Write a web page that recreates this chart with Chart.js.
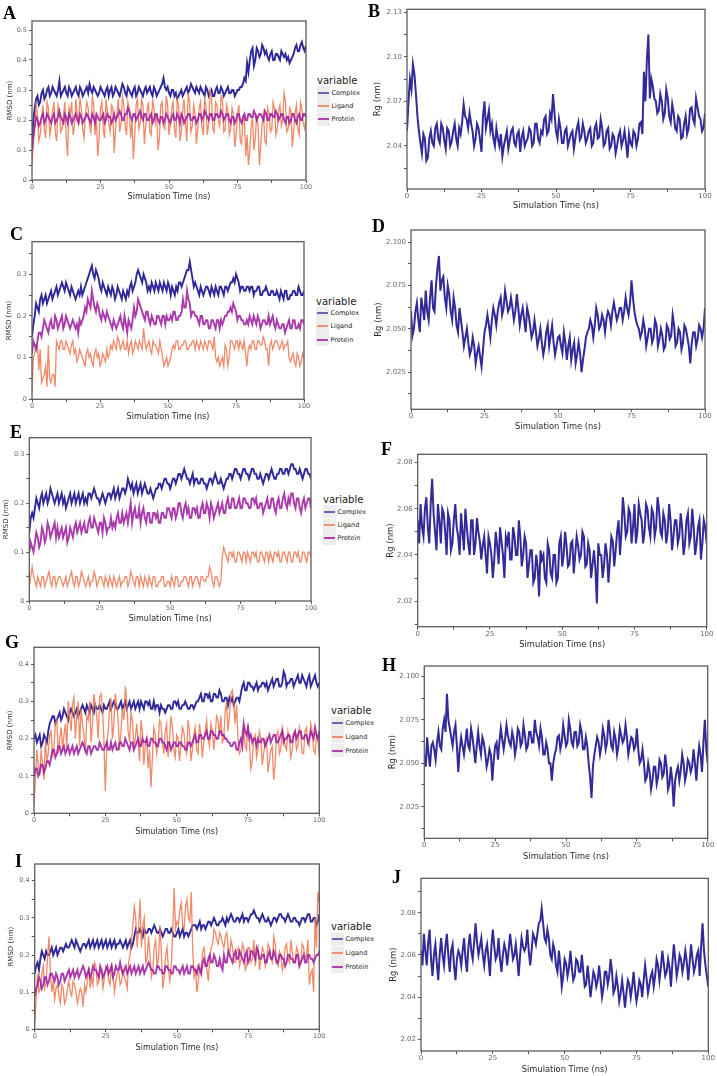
<!DOCTYPE html>
<html><head><meta charset="utf-8">
<script src="https://cdn.jsdelivr.net/npm/chart.js@4.4.1/dist/chart.umd.min.js"></script>
<style>
html,body{margin:0;padding:0;background:#fff}
body{width:717px;height:1076px;position:relative;overflow:hidden;font-family:'DejaVu Sans',sans-serif}
canvas{position:absolute}
.plab{position:absolute;font-family:'Liberation Serif',serif;font-weight:bold;font-size:18px;line-height:18px;color:#000}
.legt{position:absolute;font-size:10px;line-height:12px;color:#222;white-space:nowrap}
.legk{position:absolute;width:13px;height:13px;background:#ededed}
.legk i{position:absolute;left:1px;right:1px;top:5.5px;height:2px;display:block}
.legi{position:absolute;font-size:6.5px;line-height:8px;color:#222;white-space:nowrap}
</style></head>
<body>
<script>
// ---------------- DATA ----------------
const TIME = [0,1,2,3,4,5,6,7,8,9,10,11,12,13,14,15,16,17,18,19,20,21,22,23,24,25,26,27,28,29,30,31,32,33,34,35,36,37,38,39,40,41,42,43,44,45,46,47,48,49,50,51,52,53,54,55,56,57,58,59,60,61,62,63,64,65,66,67,68,69,70,71,72,73,74,75,76,77,78,79,80,81,82,83,84,85,86,87,88,89,90,91,92,93,94,95,96,97,98,99,100];
const TIME_HALF = [0.5,1.5,2.5,3.5,4.5,5.5,6.5,7.5,8.5,9.5,10.5,11.5,12.5,13.5,14.5,15.5,16.5,17.5,18.5,19.5,20.5,21.5,22.5,23.5,24.5,25.5,26.5,27.5,28.5,29.5,30.5,31.5,32.5,33.5,34.5,35.5,36.5,37.5,38.5,39.5,40.5,41.5,42.5,43.5,44.5,45.5,46.5,47.5,48.5,49.5,50.5,51.5,52.5,53.5,54.5,55.5,56.5,57.5,58.5,59.5,60.5,61.5,62.5,63.5,64.5,65.5,66.5,67.5,68.5,69.5,70.5,71.5,72.5,73.5,74.5,75.5,76.5,77.5,78.5,79.5,80.5,81.5,82.5,83.5,84.5,85.5,86.5,87.5,88.5,89.5,90.5,91.5,92.5,93.5,94.5,95.5,96.5,97.5,98.5,99.5];
const SERIES_NAMES = ['Complex','Ligand','Protein'];
const X_TICKS = [0,25,50,75,100];

// Panel A (RMSD)
const A_COMPLEX = [0.14,0.24,0.28,0.26,0.30,0.28,0.31,0.29,0.30,0.28,0.33,
0.29,0.31,0.28,0.30,0.29,0.31,0.28,0.30,0.29,0.31,
0.32,0.29,0.30,0.28,0.31,0.29,0.30,0.28,0.31,0.29,
0.30,0.28,0.32,0.29,0.31,0.29,0.30,0.28,0.31,0.29,
0.30,0.29,0.31,0.28,0.30,0.29,0.31,0.34,0.30,0.29,
0.30,0.28,0.27,0.29,0.28,0.30,0.29,0.32,0.30,0.31,
0.29,0.30,0.28,0.30,0.29,0.28,0.30,0.29,0.31,0.28,
0.30,0.29,0.30,0.28,0.30,0.31,0.32,0.33,0.36,0.43,
0.38,0.44,0.41,0.45,0.42,0.41,0.42,0.40,0.42,0.41,
0.43,0.41,0.40,0.39,0.41,0.44,0.43,0.45,0.44,0.45];
const A_COMPLEX_HALF = [0.20,0.27,0.25,0.29,0.27,0.30,0.28,0.31,0.29,0.30,
0.28,0.30,0.29,0.31,0.28,0.30,0.29,0.31,0.28,0.30,
0.29,0.30,0.31,0.29,0.29,0.30,0.28,0.31,0.30,0.28,
0.31,0.29,0.30,0.31,0.28,0.30,0.28,0.31,0.29,0.30,
0.28,0.31,0.30,0.29,0.31,0.28,0.30,0.32,0.31,0.31,
0.28,0.30,0.29,0.28,0.30,0.29,0.31,0.30,0.31,0.29,
0.30,0.31,0.29,0.31,0.28,0.30,0.28,0.31,0.29,0.30,
0.29,0.31,0.29,0.30,0.29,0.30,0.31,0.34,0.39,0.40,
0.44,0.40,0.43,0.42,0.44,0.43,0.40,0.43,0.40,0.42,
0.40,0.42,0.42,0.41,0.40,0.42,0.45,0.43,0.46,0.43];
const A_LIGAND = [0.05,0.18,0.22,0.15,0.25,0.14,0.24,0.18,0.26,0.13,0.23,
0.17,0.26,0.08,0.22,0.15,0.27,0.19,0.24,0.14,0.26,
0.18,0.28,0.15,0.08,0.24,0.17,0.27,0.19,0.25,0.09,
0.22,0.16,0.28,0.18,0.26,0.14,0.07,0.25,0.17,0.27,
0.12,0.23,0.16,0.27,0.19,0.10,0.25,0.18,0.28,0.15,
0.24,0.17,0.27,0.13,0.23,0.19,0.29,0.16,0.25,0.12,
0.24,0.18,0.27,0.15,0.30,0.17,0.26,0.20,0.28,0.16,
0.25,0.15,0.24,0.11,0.22,0.13,0.20,0.08,0.05,0.18,
0.10,0.22,0.05,0.19,0.13,0.24,0.16,0.26,0.15,0.23,
0.18,0.29,0.16,0.24,0.11,0.22,0.17,0.26,0.19,0.21];
const A_LIGAND_HALF = [0.12,0.25,0.13,0.21,0.17,0.26,0.15,0.23,0.16,0.25,
0.16,0.22,0.14,0.24,0.26,0.18,0.22,0.27,0.17,0.22,
0.24,0.16,0.25,0.21,0.14,0.26,0.14,0.23,0.16,0.24,
0.17,0.27,0.19,0.25,0.15,0.24,0.20,0.15,0.27,0.19,
0.25,0.18,0.26,0.15,0.24,0.22,0.14,0.26,0.17,0.25,
0.19,0.26,0.14,0.25,0.16,0.27,0.13,0.26,0.18,0.22,
0.17,0.26,0.15,0.25,0.19,0.28,0.16,0.25,0.18,0.27,
0.17,0.23,0.17,0.22,0.15,0.25,0.12,0.21,0.15,0.10,
0.21,0.14,0.18,0.12,0.22,0.12,0.22,0.17,0.24,0.17,
0.25,0.20,0.26,0.17,0.23,0.16,0.25,0.15,0.24,0.17];
const A_PROTEIN = [0.10,0.18,0.20,0.19,0.22,0.20,0.21,0.19,0.22,0.20,0.23,
0.20,0.22,0.19,0.21,0.20,0.22,0.19,0.21,0.20,0.22,
0.20,0.22,0.19,0.21,0.20,0.22,0.20,0.21,0.19,0.22,
0.21,0.23,0.20,0.22,0.24,0.21,0.22,0.20,0.22,0.21,
0.22,0.20,0.21,0.19,0.22,0.20,0.21,0.19,0.22,0.20,
0.21,0.20,0.22,0.19,0.21,0.20,0.22,0.20,0.21,0.19,
0.22,0.20,0.23,0.21,0.22,0.20,0.22,0.21,0.23,0.20,
0.22,0.20,0.21,0.19,0.22,0.20,0.21,0.20,0.22,0.21,
0.23,0.20,0.22,0.21,0.23,0.20,0.22,0.21,0.23,0.20,
0.22,0.20,0.21,0.19,0.22,0.20,0.21,0.20,0.22,0.21];
const A_PROTEIN_HALF = [0.15,0.21,0.18,0.21,0.19,0.22,0.20,0.21,0.19,0.21,
0.21,0.19,0.21,0.22,0.19,0.21,0.20,0.22,0.19,0.21,
0.21,0.19,0.21,0.22,0.20,0.21,0.19,0.22,0.21,0.20,
0.20,0.22,0.22,0.20,0.22,0.23,0.20,0.22,0.21,0.23,
0.20,0.22,0.20,0.22,0.20,0.22,0.19,0.21,0.20,0.21,
0.19,0.22,0.20,0.21,0.22,0.19,0.21,0.22,0.20,0.21,
0.20,0.22,0.21,0.22,0.20,0.22,0.20,0.22,0.21,0.22,
0.21,0.22,0.19,0.21,0.20,0.22,0.19,0.22,0.20,0.22,
0.21,0.22,0.21,0.22,0.20,0.22,0.20,0.22,0.21,0.22,
0.21,0.22,0.19,0.21,0.20,0.22,0.19,0.22,0.20,0.22];
const A_YTICKS = [0,0.1,0.2,0.3,0.4,0.5];
const A_YLABELS = ['0','0.1','0.2','0.3','0.4','0.5'];

// Panel B (Rg)
const B_RG = [2.050,2.085,2.095,2.075,2.050,2.035,2.045,2.032,2.050,2.040,2.055,
2.042,2.052,2.038,2.050,2.043,2.055,2.040,2.048,2.068,2.058,
2.062,2.050,2.045,2.052,2.036,2.070,2.058,2.050,2.045,2.052,
2.040,2.033,2.045,2.038,2.050,2.042,2.048,2.036,2.050,2.043,
2.052,2.040,2.055,2.045,2.050,2.058,2.048,2.062,2.075,2.050,
2.058,2.042,2.050,2.040,2.048,2.038,2.052,2.044,2.055,2.042,
2.050,2.040,2.052,2.045,2.058,2.040,2.050,2.038,2.048,2.035,
2.047,2.040,2.050,2.032,2.042,2.050,2.040,2.055,2.048,2.070,
2.115,2.085,2.072,2.062,2.075,2.058,2.078,2.060,2.068,2.052,
2.060,2.045,2.055,2.048,2.065,2.058,2.072,2.060,2.050,2.062];
const B_RG_HALF = [2.070,2.078,2.088,2.060,2.042,2.048,2.030,2.045,2.042,2.052,
2.045,2.055,2.044,2.052,2.040,2.050,2.045,2.052,2.056,2.060,
2.052,2.055,2.040,2.055,2.044,2.060,2.052,2.064,2.055,2.040,
2.045,2.048,2.040,2.050,2.044,2.052,2.040,2.050,2.046,2.040,
2.045,2.050,2.042,2.055,2.042,2.048,2.060,2.050,2.058,2.062,
2.045,2.052,2.042,2.052,2.044,2.050,2.045,2.056,2.046,2.050,
2.045,2.052,2.042,2.055,2.046,2.052,2.042,2.052,2.040,2.046,
2.040,2.050,2.044,2.042,2.048,2.040,2.048,2.045,2.056,2.090,
2.098,2.072,2.080,2.070,2.064,2.070,2.062,2.072,2.056,2.062,
2.050,2.058,2.046,2.060,2.052,2.066,2.055,2.066,2.058,2.052];
const B_YTICKS = [2.04,2.07,2.10,2.13];
const B_YLABELS = ['2.04','2.07','2.10','2.13'];

// Panel C (RMSD)
const C_COMPLEX = [0.15,0.20,0.22,0.24,0.23,0.25,0.24,0.26,0.25,0.27,0.26,
0.28,0.26,0.27,0.25,0.26,0.24,0.26,0.27,0.26,0.28,
0.30,0.32,0.29,0.30,0.27,0.28,0.26,0.27,0.25,0.26,
0.25,0.26,0.24,0.25,0.26,0.27,0.26,0.28,0.31,0.29,
0.30,0.28,0.27,0.28,0.26,0.27,0.28,0.26,0.27,0.28,
0.25,0.26,0.27,0.28,0.27,0.29,0.31,0.33,0.29,0.28,
0.26,0.27,0.25,0.27,0.26,0.27,0.25,0.26,0.27,0.26,
0.27,0.26,0.28,0.29,0.30,0.28,0.27,0.26,0.27,0.26,
0.27,0.26,0.27,0.25,0.26,0.27,0.25,0.26,0.25,0.26,
0.24,0.25,0.26,0.24,0.25,0.26,0.25,0.27,0.25,0.26];
const C_COMPLEX_HALF = [0.18,0.23,0.21,0.25,0.24,0.23,0.25,0.24,0.26,0.25,
0.27,0.27,0.28,0.26,0.27,0.25,0.25,0.25,0.25,0.27,
0.29,0.31,0.30,0.31,0.29,0.26,0.27,0.25,0.26,0.27,
0.24,0.27,0.25,0.26,0.24,0.25,0.28,0.27,0.30,0.30,
0.28,0.29,0.26,0.26,0.27,0.28,0.26,0.27,0.28,0.26,
0.27,0.27,0.25,0.26,0.28,0.28,0.30,0.31,0.31,0.27,
0.27,0.25,0.26,0.26,0.27,0.25,0.26,0.27,0.25,0.27,
0.25,0.27,0.27,0.28,0.28,0.29,0.26,0.27,0.26,0.27,
0.27,0.25,0.26,0.27,0.25,0.26,0.26,0.25,0.26,0.25,
0.25,0.26,0.24,0.26,0.24,0.25,0.26,0.25,0.26,0.25];
const C_LIGAND = [0.02,0.11,0.13,0.12,0.05,0.08,0.13,0.04,0.06,0.14,0.12,
0.14,0.12,0.13,0.11,0.14,0.12,0.10,0.11,0.09,0.11,
0.10,0.09,0.11,0.10,0.08,0.11,0.09,0.10,0.13,0.14,
0.12,0.14,0.13,0.12,0.14,0.13,0.11,0.14,0.12,0.13,
0.17,0.12,0.14,0.11,0.13,0.12,0.14,0.10,0.09,0.08,
0.10,0.13,0.14,0.12,0.13,0.14,0.12,0.13,0.14,0.12,
0.13,0.14,0.12,0.13,0.14,0.13,0.15,0.09,0.08,0.10,
0.13,0.08,0.14,0.13,0.14,0.12,0.13,0.14,0.08,0.13,
0.14,0.12,0.14,0.13,0.15,0.12,0.08,0.14,0.13,0.14,
0.12,0.14,0.13,0.14,0.09,0.11,0.08,0.10,0.09,0.10];
const C_LIGAND_HALF = [0.10,0.13,0.07,0.04,0.06,0.03,0.05,0.06,0.03,0.13,
0.14,0.12,0.14,0.12,0.13,0.11,0.09,0.12,0.10,0.08,
0.12,0.11,0.08,0.12,0.11,0.09,0.10,0.12,0.11,0.12,
0.13,0.15,0.12,0.14,0.12,0.11,0.14,0.12,0.13,0.14,
0.12,0.14,0.13,0.12,0.14,0.13,0.11,0.12,0.08,0.10,
0.09,0.12,0.12,0.14,0.12,0.13,0.14,0.12,0.13,0.14,
0.14,0.12,0.13,0.14,0.12,0.14,0.12,0.10,0.10,0.09,
0.08,0.12,0.10,0.14,0.12,0.14,0.14,0.12,0.11,0.12,
0.12,0.14,0.12,0.14,0.13,0.14,0.12,0.13,0.12,0.14,
0.13,0.13,0.12,0.13,0.10,0.10,0.09,0.11,0.08,0.11];
const C_PROTEIN = [0.11,0.13,0.14,0.16,0.17,0.18,0.16,0.19,0.17,0.19,0.18,
0.20,0.18,0.19,0.17,0.19,0.17,0.16,0.18,0.20,0.21,
0.23,0.26,0.22,0.23,0.20,0.21,0.19,0.20,0.18,0.19,
0.17,0.19,0.18,0.20,0.16,0.18,0.19,0.20,0.24,0.22,
0.20,0.21,0.19,0.20,0.18,0.20,0.19,0.20,0.18,0.19,
0.20,0.21,0.19,0.20,0.21,0.22,0.26,0.23,0.21,0.20,
0.19,0.20,0.18,0.19,0.17,0.19,0.18,0.19,0.17,0.18,
0.20,0.21,0.22,0.23,0.21,0.20,0.19,0.18,0.19,0.20,
0.18,0.19,0.20,0.17,0.19,0.18,0.20,0.19,0.18,0.19,
0.17,0.18,0.16,0.18,0.17,0.19,0.17,0.18,0.19,0.18];
const C_PROTEIN_HALF = [0.14,0.12,0.16,0.15,0.19,0.17,0.18,0.17,0.20,0.17,
0.19,0.17,0.20,0.18,0.18,0.18,0.18,0.19,0.19,0.22,
0.24,0.22,0.24,0.21,0.22,0.19,0.20,0.21,0.19,0.17,
0.18,0.18,0.20,0.17,0.18,0.19,0.17,0.22,0.21,0.23,
0.21,0.19,0.21,0.18,0.19,0.18,0.20,0.18,0.20,0.20,
0.19,0.19,0.21,0.19,0.20,0.24,0.22,0.24,0.20,0.21,
0.20,0.18,0.20,0.18,0.19,0.17,0.19,0.17,0.19,0.19,
0.19,0.20,0.21,0.21,0.22,0.19,0.20,0.19,0.18,0.18,
0.19,0.20,0.18,0.19,0.18,0.19,0.18,0.18,0.20,0.17,
0.18,0.17,0.18,0.17,0.19,0.17,0.19,0.17,0.17,0.19];
const C_YTICKS = [0,0.1,0.2,0.3];
const C_YLABELS = ['0','0.1','0.2','0.3'];

// Panel D (Rg)
const D_RG = [2.060,2.050,2.065,2.048,2.062,2.072,2.055,2.078,2.060,2.085,2.072,
2.080,2.062,2.070,2.055,2.062,2.048,2.055,2.040,2.050,2.035,
2.045,2.030,2.040,2.028,2.048,2.058,2.045,2.062,2.052,2.065,
2.058,2.072,2.060,2.068,2.055,2.070,2.052,2.062,2.048,2.058,
2.045,2.055,2.040,2.050,2.035,2.048,2.040,2.052,2.035,2.045,
2.040,2.048,2.032,2.045,2.038,2.030,2.042,2.025,2.038,2.048,
2.055,2.045,2.062,2.050,2.058,2.048,2.060,2.052,2.065,2.055,
2.062,2.055,2.068,2.058,2.078,2.060,2.052,2.045,2.055,2.040,
2.050,2.042,2.055,2.040,2.050,2.038,2.052,2.044,2.058,2.040,
2.050,2.038,2.052,2.045,2.030,2.048,2.040,2.052,2.045,2.062];
const D_RG_HALF = [2.046,2.060,2.055,2.068,2.055,2.060,2.068,2.062,2.075,2.092,
2.078,2.068,2.075,2.060,2.068,2.052,2.062,2.048,2.045,2.042,
2.038,2.040,2.036,2.034,2.038,2.052,2.052,2.055,2.058,2.060,
2.068,2.062,2.066,2.062,2.062,2.060,2.062,2.058,2.055,2.062,
2.052,2.048,2.048,2.044,2.042,2.040,2.052,2.046,2.042,2.040,
2.046,2.036,2.042,2.040,2.032,2.042,2.035,2.036,2.032,2.045,
2.050,2.052,2.052,2.058,2.052,2.055,2.056,2.058,2.060,2.060,
2.058,2.062,2.060,2.062,2.065,2.068,2.055,2.050,2.048,2.050,
2.045,2.050,2.045,2.052,2.044,2.046,2.040,2.050,2.046,2.052,
2.042,2.048,2.042,2.050,2.040,2.042,2.048,2.044,2.050,2.050];
const D_YTICKS = [2.025,2.050,2.075,2.100];
const D_YLABELS = ['2.025','2.050','2.075','2.100'];

// Panel E (RMSD)
const E_COMPLEX = [0.14,0.18,0.19,0.20,0.21,0.20,0.22,0.21,0.22,0.20,0.22,
0.21,0.20,0.19,0.21,0.20,0.22,0.21,0.20,0.22,0.21,
0.22,0.21,0.23,0.21,0.20,0.22,0.20,0.22,0.21,0.23,
0.22,0.21,0.23,0.22,0.25,0.23,0.22,0.24,0.23,0.22,
0.24,0.22,0.23,0.21,0.23,0.24,0.23,0.25,0.24,0.23,
0.25,0.24,0.26,0.25,0.27,0.25,0.24,0.26,0.25,0.24,
0.25,0.24,0.23,0.25,0.24,0.26,0.24,0.25,0.23,0.25,
0.26,0.25,0.27,0.26,0.25,0.27,0.26,0.25,0.27,0.26,
0.25,0.26,0.24,0.26,0.25,0.27,0.25,0.26,0.27,0.26,
0.27,0.26,0.28,0.27,0.26,0.27,0.25,0.27,0.26,0.25];
const E_COMPLEX_HALF = [0.17,0.17,0.21,0.19,0.22,0.21,0.20,0.23,0.21,0.21,
0.20,0.22,0.21,0.20,0.22,0.21,0.20,0.22,0.21,0.20,
0.20,0.22,0.22,0.22,0.21,0.21,0.21,0.21,0.22,0.22,
0.21,0.23,0.22,0.23,0.23,0.24,0.24,0.23,0.22,0.24,
0.23,0.23,0.22,0.22,0.22,0.23,0.24,0.24,0.25,0.24,
0.24,0.25,0.25,0.26,0.26,0.26,0.25,0.25,0.24,0.25,
0.24,0.25,0.24,0.24,0.25,0.25,0.25,0.24,0.24,0.24,
0.25,0.26,0.26,0.27,0.26,0.26,0.27,0.26,0.26,0.27,
0.26,0.25,0.25,0.25,0.26,0.26,0.26,0.25,0.26,0.27,
0.26,0.27,0.27,0.28,0.27,0.26,0.26,0.26,0.27,0.26];
const E_LIGAND = [0.03,0.07,0.04,0.05,0.03,0.05,0.04,0.06,0.03,0.05,0.04,
0.05,0.03,0.05,0.04,0.06,0.03,0.05,0.04,0.05,0.03,
0.05,0.04,0.06,0.03,0.05,0.04,0.05,0.03,0.04,0.05,
0.03,0.05,0.04,0.05,0.03,0.06,0.04,0.05,0.03,0.04,
0.05,0.03,0.04,0.05,0.03,0.04,0.05,0.03,0.04,0.03,
0.04,0.05,0.03,0.04,0.05,0.04,0.05,0.03,0.05,0.04,
0.05,0.04,0.05,0.07,0.04,0.05,0.04,0.04,0.11,0.09,
0.10,0.09,0.08,0.10,0.09,0.10,0.08,0.09,0.10,0.09,
0.08,0.10,0.09,0.10,0.08,0.09,0.10,0.09,0.08,0.10,
0.09,0.10,0.08,0.10,0.09,0.08,0.10,0.09,0.10,0.09];
const E_LIGAND_HALF = [0.05,0.05,0.03,0.04,0.05,0.03,0.05,0.04,0.05,0.03,
0.05,0.04,0.04,0.03,0.05,0.04,0.05,0.03,0.06,0.04,
0.04,0.03,0.04,0.05,0.04,0.05,0.03,0.04,0.05,0.03,
0.04,0.04,0.03,0.04,0.05,0.04,0.05,0.03,0.05,0.05,
0.03,0.04,0.05,0.03,0.05,0.03,0.04,0.05,0.03,0.04,
0.05,0.03,0.05,0.03,0.04,0.05,0.03,0.05,0.04,0.05,
0.03,0.05,0.04,0.05,0.06,0.03,0.05,0.03,0.09,0.10,
0.08,0.10,0.10,0.08,0.10,0.08,0.10,0.10,0.08,0.10,
0.10,0.08,0.10,0.08,0.10,0.10,0.08,0.10,0.10,0.08,
0.10,0.08,0.10,0.08,0.10,0.10,0.08,0.10,0.08,0.10];
const E_PROTEIN = [0.10,0.11,0.12,0.13,0.12,0.14,0.13,0.15,0.14,0.16,0.15,
0.14,0.13,0.15,0.13,0.14,0.15,0.14,0.16,0.15,0.14,
0.16,0.15,0.17,0.15,0.16,0.14,0.16,0.15,0.17,0.16,
0.17,0.16,0.18,0.17,0.16,0.20,0.18,0.17,0.19,0.18,
0.17,0.18,0.16,0.18,0.17,0.16,0.18,0.17,0.19,0.18,
0.19,0.17,0.20,0.18,0.19,0.18,0.17,0.19,0.18,0.17,
0.19,0.18,0.20,0.17,0.19,0.18,0.20,0.19,0.18,0.20,
0.19,0.21,0.19,0.20,0.19,0.21,0.20,0.19,0.21,0.20,
0.19,0.20,0.18,0.20,0.19,0.21,0.19,0.20,0.19,0.21,
0.20,0.21,0.22,0.20,0.21,0.19,0.20,0.19,0.21,0.19];
const E_PROTEIN_HALF = [0.12,0.10,0.14,0.11,0.15,0.12,0.16,0.13,0.15,0.13,
0.13,0.15,0.14,0.12,0.15,0.13,0.16,0.15,0.14,0.16,
0.14,0.17,0.15,0.16,0.14,0.16,0.17,0.14,0.15,0.15,
0.15,0.18,0.16,0.16,0.18,0.18,0.16,0.19,0.17,0.16,
0.19,0.16,0.18,0.16,0.18,0.18,0.16,0.18,0.17,0.19,
0.17,0.19,0.18,0.20,0.17,0.20,0.19,0.17,0.19,0.19,
0.17,0.20,0.18,0.19,0.20,0.17,0.19,0.18,0.20,0.18,
0.21,0.19,0.21,0.19,0.21,0.19,0.21,0.20,0.19,0.21,
0.21,0.19,0.20,0.19,0.21,0.19,0.21,0.18,0.21,0.19,
0.22,0.19,0.20,0.22,0.19,0.21,0.18,0.21,0.20,0.21];
const E_YTICKS = [0,0.1,0.2,0.3];
const E_YLABELS = ['0','0.1','0.2','0.3'];

// Panel F (Rg)
const F_RG = [2.055,2.062,2.048,2.065,2.045,2.073,2.050,2.062,2.045,2.058,2.040,
2.055,2.045,2.062,2.048,2.058,2.042,2.052,2.040,2.055,2.045,
2.050,2.038,2.048,2.032,2.045,2.030,2.050,2.036,2.046,2.030,
2.045,2.038,2.052,2.040,2.055,2.035,2.048,2.030,2.042,2.028,
2.040,2.022,2.038,2.030,2.045,2.032,2.040,2.028,2.045,2.035,
2.050,2.035,2.045,2.032,2.048,2.038,2.050,2.035,2.045,2.030,
2.042,2.019,2.040,2.030,2.045,2.028,2.048,2.035,2.050,2.040,
2.065,2.048,2.060,2.045,2.062,2.050,2.058,2.045,2.062,2.052,
2.060,2.048,2.065,2.050,2.058,2.045,2.062,2.042,2.055,2.045,
2.058,2.040,2.055,2.045,2.060,2.040,2.052,2.038,2.055,2.045];
const F_RG_HALF = [2.045,2.052,2.060,2.052,2.062,2.058,2.042,2.055,2.060,2.050,
2.058,2.042,2.055,2.052,2.040,2.050,2.060,2.045,2.055,2.040,
2.056,2.046,2.044,2.040,2.048,2.040,2.038,2.044,2.052,2.040,
2.048,2.050,2.038,2.048,2.040,2.048,2.040,2.045,2.036,2.042,
2.030,2.035,2.042,2.040,2.028,2.042,2.030,2.040,2.030,2.048,
2.040,2.044,2.036,2.046,2.040,2.044,2.040,2.048,2.036,2.042,
2.036,2.034,2.045,2.040,2.036,2.040,2.038,2.046,2.042,2.055,
2.050,2.058,2.050,2.058,2.052,2.045,2.062,2.055,2.050,2.060,
2.048,2.058,2.052,2.060,2.048,2.055,2.050,2.055,2.048,2.055,
2.048,2.052,2.045,2.058,2.048,2.052,2.045,2.055,2.045,2.052];
const F_YTICKS = [2.02,2.04,2.06,2.08];
const F_YLABELS = ['2.02','2.04','2.06','2.08'];

// Panel G (RMSD)
const G_COMPLEX = [0.20,0.19,0.21,0.19,0.20,0.22,0.25,0.26,0.25,0.27,0.26,
0.27,0.25,0.28,0.26,0.28,0.27,0.29,0.27,0.28,0.29,
0.27,0.28,0.29,0.27,0.28,0.29,0.28,0.30,0.28,0.29,
0.28,0.30,0.29,0.28,0.30,0.29,0.28,0.29,0.30,0.29,
0.28,0.30,0.29,0.27,0.28,0.27,0.29,0.28,0.30,0.29,
0.28,0.29,0.30,0.28,0.29,0.28,0.30,0.31,0.30,0.32,
0.31,0.30,0.32,0.31,0.33,0.30,0.31,0.29,0.30,0.29,
0.31,0.30,0.34,0.33,0.35,0.34,0.33,0.35,0.34,0.35,
0.34,0.33,0.35,0.34,0.36,0.34,0.35,0.37,0.35,0.36,
0.34,0.36,0.35,0.37,0.35,0.36,0.34,0.36,0.35,0.35];
const G_COMPLEX_HALF = [0.21,0.20,0.18,0.21,0.19,0.24,0.26,0.24,0.26,0.25,
0.28,0.26,0.27,0.27,0.27,0.26,0.28,0.28,0.29,0.27,
0.28,0.29,0.28,0.28,0.29,0.28,0.30,0.29,0.29,0.28,
0.30,0.29,0.28,0.30,0.29,0.28,0.30,0.30,0.28,0.30,
0.30,0.28,0.28,0.29,0.29,0.28,0.28,0.29,0.28,0.30,
0.30,0.28,0.29,0.29,0.28,0.29,0.29,0.30,0.32,0.30,
0.32,0.32,0.30,0.32,0.31,0.32,0.30,0.31,0.31,0.31,
0.30,0.31,0.32,0.35,0.33,0.35,0.34,0.34,0.33,0.34,
0.35,0.35,0.34,0.36,0.35,0.36,0.34,0.38,0.34,0.35,
0.36,0.35,0.37,0.35,0.36,0.34,0.37,0.35,0.37,0.34];
const G_LIGAND = [0.02,0.17,0.10,0.13,0.20,0.16,0.22,0.18,0.25,0.20,0.17,
0.24,0.30,0.22,0.31,0.26,0.18,0.24,0.16,0.25,0.19,
0.32,0.26,0.31,0.28,0.06,0.22,0.31,0.24,0.29,0.17,
0.28,0.34,0.22,0.27,0.18,0.24,0.14,0.22,0.18,0.12,
0.07,0.23,0.16,0.25,0.19,0.22,0.15,0.26,0.17,0.21,
0.14,0.23,0.18,0.25,0.14,0.21,0.17,0.24,0.15,0.22,
0.20,0.24,0.17,0.26,0.21,0.19,0.27,0.22,0.32,0.30,
0.29,0.16,0.22,0.18,0.24,0.12,0.20,0.15,0.22,0.13,
0.19,0.11,0.17,0.09,0.21,0.16,0.23,0.18,0.22,0.15,
0.21,0.17,0.23,0.16,0.22,0.19,0.24,0.17,0.21,0.15];
const G_LIGAND_HALF = [0.09,0.13,0.17,0.09,0.14,0.21,0.15,0.24,0.16,0.23,
0.21,0.17,0.26,0.29,0.20,0.30,0.28,0.21,0.26,0.30,
0.24,0.29,0.20,0.32,0.20,0.18,0.28,0.20,0.32,0.25,
0.22,0.25,0.30,0.19,0.25,0.20,0.19,0.25,0.13,0.20,
0.17,0.15,0.21,0.19,0.24,0.16,0.24,0.20,0.23,0.15,
0.20,0.18,0.22,0.16,0.22,0.17,0.23,0.16,0.21,0.19,
0.25,0.18,0.22,0.21,0.25,0.26,0.20,0.30,0.26,0.33,
0.24,0.20,0.17,0.23,0.17,0.19,0.14,0.21,0.17,0.20,
0.16,0.20,0.14,0.18,0.13,0.22,0.17,0.21,0.17,0.20,
0.17,0.22,0.18,0.21,0.16,0.23,0.18,0.22,0.16,0.20];
const G_PROTEIN = [0.10,0.12,0.11,0.13,0.12,0.14,0.15,0.17,0.16,0.18,0.17,
0.16,0.18,0.17,0.16,0.18,0.17,0.19,0.17,0.18,0.16,
0.18,0.17,0.19,0.17,0.18,0.17,0.19,0.18,0.17,0.19,
0.18,0.20,0.18,0.19,0.17,0.19,0.18,0.20,0.19,0.18,
0.20,0.19,0.18,0.20,0.19,0.18,0.19,0.17,0.19,0.18,
0.19,0.18,0.17,0.19,0.18,0.20,0.19,0.21,0.20,0.21,
0.20,0.22,0.21,0.20,0.22,0.21,0.20,0.19,0.18,0.19,
0.17,0.19,0.18,0.22,0.23,0.21,0.20,0.18,0.19,0.20,
0.18,0.20,0.19,0.21,0.19,0.20,0.22,0.20,0.21,0.19,
0.21,0.20,0.22,0.20,0.21,0.19,0.22,0.20,0.21,0.22];
const G_PROTEIN_HALF = [0.12,0.10,0.13,0.11,0.14,0.13,0.17,0.15,0.18,0.16,
0.18,0.17,0.16,0.18,0.17,0.16,0.18,0.18,0.16,0.18,
0.17,0.18,0.17,0.18,0.17,0.19,0.17,0.17,0.19,0.17,
0.19,0.18,0.19,0.17,0.19,0.18,0.20,0.18,0.19,0.20,
0.18,0.20,0.19,0.18,0.20,0.19,0.17,0.19,0.18,0.19,
0.18,0.19,0.18,0.17,0.19,0.19,0.21,0.19,0.21,0.20,
0.22,0.20,0.22,0.21,0.20,0.22,0.21,0.20,0.19,0.18,
0.19,0.17,0.20,0.24,0.21,0.20,0.19,0.20,0.20,0.19,
0.20,0.19,0.21,0.20,0.21,0.19,0.21,0.19,0.20,0.21,
0.19,0.22,0.21,0.22,0.20,0.21,0.20,0.21,0.23,0.20];
const G_YTICKS = [0,0.1,0.2,0.3,0.4];
const G_YLABELS = ['0','0.1','0.2','0.3','0.4'];

// Panel H (Rg)
const H_RG = [2.055,2.065,2.048,2.062,2.052,2.068,2.058,2.075,2.090,2.070,2.060,
2.072,2.045,2.065,2.055,2.070,2.058,2.065,2.050,2.068,2.055,
2.062,2.048,2.058,2.040,2.060,2.052,2.070,2.058,2.072,2.062,
2.068,2.055,2.070,2.060,2.072,2.058,2.068,2.062,2.075,2.065,
2.070,2.055,2.062,2.050,2.040,2.055,2.065,2.058,2.072,2.060,
2.075,2.062,2.068,2.060,2.072,2.058,2.065,2.050,2.030,2.055,
2.065,2.055,2.070,2.058,2.075,2.060,2.068,2.055,2.070,2.062,
2.072,2.055,2.065,2.058,2.070,2.050,2.058,2.040,2.050,2.035,
2.048,2.038,2.052,2.042,2.055,2.035,2.048,2.025,2.045,2.040,
2.055,2.040,2.052,2.045,2.058,2.040,2.060,2.045,2.075,2.050];
const H_RG_HALF = [2.048,2.055,2.060,2.058,2.062,2.060,2.070,2.068,2.075,2.065,
2.068,2.060,2.058,2.060,2.062,2.060,2.070,2.058,2.060,2.060,
2.065,2.056,2.052,2.055,2.052,2.062,2.062,2.064,2.064,2.066,
2.060,2.064,2.060,2.068,2.062,2.066,2.060,2.068,2.062,2.068,
2.060,2.065,2.055,2.058,2.050,2.050,2.058,2.066,2.062,2.066,
2.062,2.070,2.060,2.068,2.062,2.068,2.058,2.060,2.042,2.048,
2.060,2.062,2.060,2.066,2.062,2.068,2.058,2.064,2.060,2.066,
2.064,2.065,2.060,2.064,2.060,2.058,2.052,2.050,2.042,2.045,
2.040,2.048,2.042,2.050,2.044,2.048,2.038,2.040,2.040,2.048,
2.046,2.050,2.044,2.050,2.048,2.050,2.052,2.055,2.062,2.058];
const H_YTICKS = [2.025,2.050,2.075,2.100];
const H_YLABELS = ['2.025','2.050','2.075','2.100'];

// Panel I (RMSD)
const I_COMPLEX = [0.15,0.18,0.19,0.20,0.21,0.20,0.22,0.21,0.20,0.22,0.21,
0.23,0.22,0.24,0.22,0.23,0.21,0.23,0.22,0.24,0.23,
0.22,0.24,0.23,0.22,0.24,0.23,0.22,0.24,0.23,0.24,
0.22,0.24,0.23,0.22,0.25,0.26,0.27,0.25,0.26,0.27,
0.26,0.28,0.26,0.27,0.25,0.27,0.26,0.27,0.25,0.26,
0.25,0.27,0.26,0.25,0.27,0.28,0.27,0.29,0.28,0.27,
0.29,0.28,0.30,0.28,0.29,0.30,0.28,0.29,0.31,0.29,
0.30,0.29,0.31,0.30,0.29,0.31,0.32,0.30,0.29,0.31,
0.29,0.30,0.28,0.30,0.29,0.31,0.30,0.29,0.31,0.29,
0.30,0.29,0.28,0.30,0.29,0.31,0.29,0.30,0.28,0.31];
const I_COMPLEX_HALF = [0.17,0.16,0.21,0.19,0.20,0.21,0.20,0.22,0.21,0.22,
0.22,0.22,0.23,0.23,0.24,0.22,0.22,0.23,0.23,0.22,
0.24,0.23,0.22,0.24,0.23,0.22,0.24,0.23,0.22,0.23,
0.23,0.23,0.22,0.24,0.23,0.27,0.26,0.26,0.27,0.26,
0.27,0.27,0.27,0.26,0.26,0.26,0.27,0.26,0.26,0.25,
0.27,0.26,0.25,0.26,0.26,0.28,0.28,0.28,0.27,0.28,
0.28,0.29,0.29,0.29,0.28,0.29,0.29,0.30,0.30,0.30,
0.29,0.30,0.30,0.29,0.30,0.30,0.31,0.31,0.30,0.30,
0.30,0.29,0.29,0.29,0.30,0.30,0.31,0.30,0.30,0.30,
0.29,0.30,0.29,0.29,0.30,0.30,0.31,0.29,0.30,0.29];
const I_LIGAND = [0.02,0.15,0.11,0.17,0.13,0.25,0.10,0.08,0.12,0.07,0.11,
0.08,0.13,0.09,0.12,0.07,0.11,0.06,0.10,0.17,0.14,
0.18,0.12,0.16,0.11,0.17,0.13,0.18,0.10,0.15,0.12,
0.16,0.13,0.18,0.24,0.33,0.22,0.35,0.28,0.18,0.25,
0.14,0.22,0.17,0.28,0.11,0.20,0.16,0.17,0.38,0.29,
0.32,0.28,0.33,0.30,0.37,0.14,0.10,0.17,0.21,0.18,
0.13,0.22,0.27,0.24,0.26,0.23,0.25,0.22,0.24,0.18,
0.21,0.17,0.23,0.16,0.22,0.18,0.24,0.20,0.16,0.22,
0.17,0.23,0.19,0.25,0.18,0.21,0.16,0.22,0.19,0.24,
0.18,0.22,0.17,0.23,0.19,0.24,0.15,0.10,0.22,0.34];
const I_LIGAND_HALF = [0.08,0.10,0.15,0.11,0.19,0.16,0.13,0.11,0.09,0.12,
0.07,0.11,0.10,0.13,0.10,0.09,0.10,0.12,0.13,0.11,
0.12,0.17,0.13,0.15,0.14,0.16,0.12,0.15,0.13,0.16,
0.13,0.14,0.11,0.20,0.28,0.30,0.27,0.22,0.30,0.19,
0.20,0.16,0.24,0.19,0.21,0.14,0.22,0.13,0.26,0.27,
0.28,0.34,0.27,0.35,0.29,0.22,0.16,0.13,0.15,0.22,
0.16,0.19,0.23,0.26,0.23,0.25,0.22,0.26,0.20,0.22,
0.18,0.22,0.19,0.22,0.17,0.22,0.19,0.17,0.22,0.19,
0.21,0.19,0.22,0.18,0.23,0.17,0.20,0.18,0.23,0.18,
0.21,0.18,0.21,0.18,0.22,0.20,0.12,0.16,0.30,0.37];
const I_PROTEIN = [0.09,0.12,0.13,0.12,0.14,0.13,0.15,0.13,0.14,0.13,0.15,
0.14,0.16,0.15,0.14,0.16,0.15,0.17,0.14,0.16,0.15,
0.16,0.15,0.17,0.14,0.16,0.15,0.17,0.15,0.16,0.18,
0.15,0.17,0.16,0.15,0.17,0.16,0.15,0.17,0.16,0.18,
0.16,0.15,0.17,0.16,0.15,0.17,0.16,0.15,0.17,0.16,
0.15,0.17,0.16,0.15,0.17,0.16,0.15,0.16,0.18,0.17,
0.19,0.18,0.20,0.17,0.19,0.16,0.18,0.21,0.19,0.20,
0.19,0.21,0.19,0.20,0.18,0.21,0.20,0.22,0.19,0.20,
0.18,0.20,0.19,0.21,0.18,0.20,0.19,0.17,0.20,0.19,
0.18,0.20,0.17,0.19,0.18,0.20,0.19,0.18,0.20,0.21];
const I_PROTEIN_HALF = [0.11,0.14,0.11,0.14,0.12,0.15,0.14,0.15,0.12,0.15,
0.13,0.15,0.14,0.16,0.15,0.14,0.16,0.16,0.15,0.14,
0.17,0.16,0.14,0.16,0.15,0.17,0.16,0.14,0.17,0.16,
0.16,0.16,0.15,0.17,0.16,0.15,0.17,0.16,0.15,0.17,
0.17,0.16,0.15,0.17,0.16,0.15,0.17,0.16,0.15,0.17,
0.16,0.16,0.15,0.17,0.15,0.17,0.16,0.17,0.15,0.19,
0.17,0.20,0.18,0.19,0.17,0.17,0.20,0.18,0.20,0.18,
0.21,0.19,0.20,0.18,0.21,0.19,0.21,0.19,0.21,0.19,
0.20,0.18,0.21,0.19,0.20,0.18,0.20,0.19,0.18,0.20,
0.19,0.18,0.20,0.18,0.20,0.18,0.20,0.19,0.19,0.20];
const I_YTICKS = [0,0.1,0.2,0.3,0.4];
const I_YLABELS = ['0','0.1','0.2','0.3','0.4'];

// Panel J (Rg)
const J_RG = [2.062,2.070,2.055,2.072,2.050,2.065,2.048,2.068,2.055,2.070,2.052,
2.065,2.048,2.062,2.055,2.068,2.052,2.070,2.058,2.075,2.060,
2.068,2.055,2.065,2.050,2.072,2.058,2.068,2.052,2.065,2.055,
2.070,2.058,2.065,2.050,2.068,2.062,2.072,2.055,2.070,2.065,
2.075,2.082,2.068,2.072,2.060,2.065,2.055,2.062,2.045,2.058,
2.050,2.062,2.048,2.058,2.052,2.060,2.045,2.055,2.040,2.052,
2.045,2.055,2.040,2.052,2.046,2.058,2.042,2.050,2.038,2.048,
2.035,2.048,2.040,2.052,2.038,2.048,2.040,2.055,2.042,2.050,
2.045,2.058,2.048,2.062,2.050,2.058,2.045,2.065,2.050,2.060,
2.052,2.062,2.048,2.065,2.052,2.060,2.050,2.075,2.055,2.045];
const J_RG_HALF = [2.055,2.062,2.066,2.058,2.060,2.056,2.060,2.060,2.064,2.060,
2.062,2.055,2.058,2.060,2.062,2.058,2.064,2.062,2.066,2.066,
2.064,2.060,2.062,2.058,2.064,2.064,2.060,2.058,2.060,2.062,
2.062,2.064,2.060,2.058,2.060,2.064,2.064,2.062,2.062,2.068,
2.070,2.076,2.075,2.066,2.068,2.058,2.062,2.052,2.055,2.050,
2.056,2.054,2.054,2.050,2.057,2.052,2.052,2.046,2.048,2.046,
2.050,2.048,2.048,2.044,2.052,2.050,2.052,2.044,2.045,2.042,
2.042,2.042,2.046,2.045,2.044,2.042,2.046,2.048,2.049,2.046,
2.052,2.050,2.055,2.054,2.056,2.052,2.054,2.056,2.058,2.054,
2.058,2.056,2.057,2.056,2.058,2.055,2.062,2.064,2.062,2.050];
const J_YTICKS = [2.02,2.04,2.06,2.08];
const J_YLABELS = ['2.02','2.04','2.06','2.08'];

// ---------------- STYLE / LAYOUT ----------------
const COLORS = {Complex:'rgba(18,10,138,0.88)', Ligand:'rgba(237,121,83,0.88)', Protein:'rgba(156,23,158,0.85)', Rg:'rgba(20,12,138,0.88)'};
const WIDTHS = {Complex:1.9, Ligand:1.3, Protein:1.9, Rg:2.0};
const KEY_COLORS = {Complex:'rgba(13,8,135,0.6)', Ligand:'rgba(237,121,83,0.8)', Protein:'rgba(156,23,158,0.8)'};

const PANELS = [
 {id:'A', kind:'rmsd', L:32, T:21, R:306, B:180, ytc:10, xtc:197, ymin:0, ymax:0.53, yt:A_YTICKS, yl:A_YLABELS, data:[[A_COMPLEX,A_COMPLEX_HALF],[A_LIGAND,A_LIGAND_HALF],[A_PROTEIN,A_PROTEIN_HALF]], lab:[3,19], leg:{x:317,t:81,items:[92.7,105.7,119.3]}},
 {id:'B', kind:'rg', L:407, T:9.3, R:705, B:189, ytc:378.3, xtc:206, ymin:2.011, ymax:2.132, yt:B_YTICKS, yl:B_YLABELS, data:[[B_RG,B_RG_HALF]], lab:[368,17]},
 {id:'C', kind:'rmsd', L:32, T:241.7, R:304, B:399.3, ytc:9.7, xtc:417, ymin:0, ymax:0.378, yt:C_YTICKS, yl:C_YLABELS, data:[[C_COMPLEX,C_COMPLEX_HALF],[C_LIGAND,C_LIGAND_HALF],[C_PROTEIN,C_PROTEIN_HALF]], lab:[10,240], leg:{x:316,t:302,items:[313,326.3,339.7]}},
 {id:'D', kind:'rg', L:411, T:230, R:705, B:409.3, ytc:379, xtc:427, ymin:2.0035, ymax:2.107, yt:D_YTICKS, yl:D_YLABELS, data:[[D_RG,D_RG_HALF]], lab:[372,232]},
 {id:'E', kind:'rmsd', L:29.3, T:437.7, R:311, B:601, ytc:6, xtc:619, ymin:0, ymax:0.334, yt:E_YTICKS, yl:E_YLABELS, data:[[E_COMPLEX,E_COMPLEX_HALF],[E_LIGAND,E_LIGAND_HALF],[E_PROTEIN,E_PROTEIN_HALF]], lab:[10,438], leg:{x:323,t:500,items:[511.7,525,538.3]}},
 {id:'F', kind:'rg', L:417.7, T:454.3, R:706.7, B:626.7, ytc:390.7, xtc:645.7, ymin:2.0089, ymax:2.0836, yt:F_YTICKS, yl:F_YLABELS, data:[[F_RG,F_RG_HALF]], lab:[381,455]},
 {id:'G', kind:'rmsd', L:34, T:647.3, R:319.3, B:813.3, ytc:10.7, xtc:832, ymin:0, ymax:0.445, yt:G_YTICKS, yl:G_YLABELS, data:[[G_COMPLEX,G_COMPLEX_HALF],[G_LIGAND,G_LIGAND_HALF],[G_PROTEIN,G_PROTEIN_HALF]], lab:[5,648], leg:{x:331,t:710.7,items:[723.3,736.7,750.7]}},
 {id:'H', kind:'rg', L:424.3, T:666, R:707.7, B:838.3, ytc:393, xtc:857, ymin:2.0068, ymax:2.106, yt:H_YTICKS, yl:H_YLABELS, data:[[H_RG,H_RG_HALF]], lab:[382,671]},
 {id:'I', kind:'rmsd', L:34.7, T:864, R:319.3, B:1029.3, ytc:11.7, xtc:1048, ymin:0, ymax:0.445, yt:I_YTICKS, yl:I_YLABELS, data:[[I_COMPLEX,I_COMPLEX_HALF],[I_LIGAND,I_LIGAND_HALF],[I_PROTEIN,I_PROTEIN_HALF]], lab:[15,867], leg:{x:331,t:927.3,items:[939.3,953.3,966.7]}},
 {id:'J', kind:'rg', L:421, T:878.3, R:708.3, B:1051, ytc:394, xtc:1070, ymin:2.0145, ymax:2.0963, yt:J_YTICKS, yl:J_YLABELS, data:[[J_RG,J_RG_HALF]], lab:[392,883]}
];

const framePlugin = {id:'frame', afterDatasetsDraw(c){const a=c.chartArea, x=c.ctx; x.save(); x.strokeStyle='#5c5c5c'; x.lineWidth=1.3; x.strokeRect(a.left,a.top,a.right-a.left,a.bottom-a.top); x.restore();}};

function minorTicks(maj, lo, hi){
  const step = maj[1]-maj[0]; const out=[];
  for(let i=-1;i<maj.length;i++){ const m = (i<0? maj[0]-step/2 : maj[i]+step/2); if(m>lo && m<hi) out.push(m); }
  return out;
}
function labelFor(maj, labs){ return v => { const i = maj.findIndex(m=>Math.abs(m-v)<1e-7); return i<0 ? '' : labs[i]; }; }
function points(pair){
  const [whole, half] = pair;
  return TIME.map((t,i)=>({x:t, y:whole[i]})).concat(TIME_HALF.map((t,i)=>({x:t, y:half[i]}))).sort((a,b)=>a.x-b.x);
}

function makePanel(p){
  const rg = p.kind==='rg';
  const xTitleSize = rg?8.3:8, yTitleSize = rg?8.5:7, tickSize = rg?7:6.5;
  const lhX = xTitleSize*1.2, lhY = yTitleSize*1.2;
  const cl = p.ytc - lhY/2, cb = p.xtc + lhX/2, ct = p.T - 10, cr = Math.min(p.R + 9, 717);
  const W = Math.round(cr-cl), H = Math.round(cb-ct);
  const left = Math.round(cl), top = Math.round(ct);
  const yW = p.L - left, xH = (top+H) - p.B, padT = p.T - top, padR = (left+W) - p.R;
  const cv = document.createElement('canvas');
  cv.width = W; cv.height = H; cv.style.width = W+'px'; cv.style.height = H+'px';
  cv.style.left = left+'px'; cv.style.top = top+'px';
  document.body.appendChild(cv);

  const xAll = X_TICKS.concat(minorTicks(X_TICKS,0,100)).sort((a,b)=>a-b);
  const yAll = p.yt.concat(minorTicks(p.yt,p.ymin,p.ymax)).sort((a,b)=>a-b);
  const names = rg ? ['Rg'] : SERIES_NAMES;
  const order = {Complex:2, Ligand:1, Protein:0, Rg:0};
  const datasets = p.data.map((pair,k)=>({
    label: names[k],
    data: points(pair),
    borderColor: COLORS[names[k]], borderWidth: WIDTHS[names[k]],
    borderJoinStyle:'miter', pointRadius:0, tension:0, fill:false, order: order[names[k]]
  }));
  const tickFont = {family:'DejaVu Sans', size:tickSize};
  new Chart(cv, {
    type:'line',
    data:{datasets},
    plugins:[framePlugin],
    options:{
      responsive:false, animation:false, events:[], devicePixelRatio:1,
      layout:{padding:{top:padT, right:padR, left:0, bottom:0}},
      plugins:{legend:{display:false}, tooltip:{enabled:false}},
      scales:{
        x:{type:'linear', min:0, max:100,
           afterBuildTicks:s=>{s.ticks = xAll.map(v=>({value:v}));},
           afterFit:s=>{s.height = xH;},
           ticks:{callback:labelFor(X_TICKS, X_TICKS.map(String)), font:tickFont, color:'#6a6a6a', padding:0, maxRotation:0, autoSkip:false},
           grid:{drawOnChartArea:false, drawTicks:true, tickLength:3, color:'#555', lineWidth:1},
           border:{display:false},
           title:{display:true, text:'Simulation Time (ns)', font:{family:'DejaVu Sans', size:xTitleSize, lineHeight:1.2}, color:'#2a2a2a', padding:0}},
        y:{type:'linear', min:p.ymin, max:p.ymax,
           afterBuildTicks:s=>{s.ticks = yAll.map(v=>({value:v}));},
           afterFit:s=>{s.width = yW;},
           ticks:{callback:labelFor(p.yt, p.yl), font:tickFont, color:'#6a6a6a', padding:2, autoSkip:false},
           grid:{drawOnChartArea:false, drawTicks:true, tickLength:3, color:'#555', lineWidth:1},
           border:{display:false},
           title:{display:true, text: rg?'Rg (nm)':'RMSD (nm)', font:{family:'DejaVu Sans', size:yTitleSize, lineHeight:1.2}, color:'#2a2a2a', padding:0}}
      }
    }
  });

  const d = document.createElement('div'); d.className='plab'; d.textContent=p.id;
  d.style.left = p.lab[0]+'px'; d.style.top = (p.lab[1]-15.1)+'px';
  document.body.appendChild(d);

  if(p.leg){
    const t = document.createElement('div'); t.className='legt'; t.textContent='variable';
    t.style.left = p.leg.x+'px'; t.style.top = (p.leg.t-6)+'px'; document.body.appendChild(t);
    SERIES_NAMES.forEach((n,k)=>{
      const cy = p.leg.items[k];
      const kb = document.createElement('div'); kb.className='legk';
      kb.style.left = (p.leg.x-0.5)+'px'; kb.style.top = (cy-6.5)+'px';
      const ln = document.createElement('i'); ln.style.background = KEY_COLORS[n]; kb.appendChild(ln);
      document.body.appendChild(kb);
      const tx = document.createElement('div'); tx.className='legi'; tx.textContent=n;
      tx.style.left = (p.leg.x+14.5)+'px'; tx.style.top = (cy-4)+'px'; document.body.appendChild(tx);
    });
  }
}
PANELS.forEach(makePanel);
</script>
</body></html>
